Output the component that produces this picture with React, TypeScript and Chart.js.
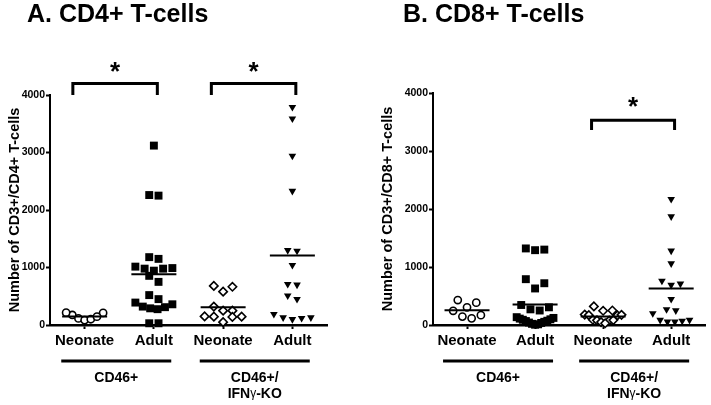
import React, { useEffect, useRef } from "react";
import { Chart, registerables } from "chart.js";
Chart.register(...registerables);

const FONT = "'Liberation Sans', Arial, Helvetica, sans-serif";

// ---- data ----
const categories = ["Neonate", "Adult", "Neonate", "Adult"];
const groupLabels = [["CD46+"], ["CD46+/", "IFNγ-KO"]];
const yTicks = [0, 1000, 2000, 3000, 4000];

const cd4Neonate = [210, 175, 115, 85, 100, 145, 215];
const cd4Adult = [3120, 2250, 2260, 1180, 1150, 1015, 980, 945, 980, 990, 855, 750, 520, 450, 390, 320, 290, 275, 310, 360, 30, 30];
const cd4KoNeonate = [680, 580, 665, 320, 250, 250, 145, 145, 140, 150, 50];
const cd4KoAdult = [3790, 3590, 2940, 2330, 1290, 1300, 1040, 700, 710, 510, 450, 190, 130, 100, 120, 130];

const cd8Neonate = [385, 305, 430, 245, 170, 115, 145];
const cd8Adult = [1320, 1290, 1300, 790, 630, 720, 345, 270, 250, 305, 5, 12, 20, 35, 42, 55, 68, 74, 90, 98, 110, 122, 135];
const cd8KoNeonate = [320, 250, 245, 180, 170, 165, 175, 90, 80, 75, 85, 50, 30];
const cd8KoAdult = [2170, 1870, 1280, 1060, 710, 690, 760, 445, 270, 250, 200, 85, 55, 55, 70, 85];

// significance brackets: [groupA, groupB, bracketTop, legBottom, starY]
const cd4Brackets = [
  [0, 1, 4200, 4000, 4500],
  [2, 3, 4200, 4000, 4500],
];
const cd8Brackets = [[2, 3, 3530, 3360, 3850]];

// ---- styles ----
const markers = [
  { pointStyle: "circle", radius: 3.6, fill: "#ffffff", border: 1.6, rotation: 0 },
  { pointStyle: "rect", radius: 5.6, fill: "#000000", border: 0, rotation: 0 },
  { pointStyle: "rectRot", radius: 4.2, fill: "#ffffff", border: 1.6, rotation: 0 },
  { pointStyle: "triangle", radius: 4.4, fill: "#000000", border: 0, rotation: 180 },
];

const ROW_TOL = 160; // data units
const STEP_PX = 9.3;
const MAX_SPAN_PX = 37;

function swarmOffsets(values: number[], pxPerCat: number) {
  const idx = values.map((_, i) => i).sort((a, b) => values[a] - values[b]);
  const offs = new Array(values.length).fill(0);
  let i = 0;
  while (i < idx.length) {
    const start = values[idx[i]];
    let j = i;
    while (j < idx.length && values[idx[j]] - start <= ROW_TOL) j++;
    const row = idx.slice(i, j);
    const n = row.length;
    const step = n > 1 ? Math.min(STEP_PX, MAX_SPAN_PX / (n - 1)) : 0;
    const slots: number[] = [];
    for (let k = 0; k < n; k++) slots.push(k - (n - 1) / 2);
    slots.sort((a, b) => Math.abs(a) - Math.abs(b) || b - a);
    row.forEach((p, k) => (offs[p] = (slots[k] * step) / pxPerCat));
    i = j;
  }
  return offs;
}

type Panel = {
  title: string;
  yTitle: string;
  groups: number[][];
  brackets: number[][];
  width: number;
  left: number;
  areaLeft: number;
  areaRight: number;
  areaTop: number;
  titleX: number;
  yTitlePad: number;
};

const panels: Panel[] = [
  {
    title: "A. CD4+ T-cells",
    yTitle: "Number of CD3+/CD4+ T-cells",
    groups: [cd4Neonate, cd4Adult, cd4KoNeonate, cd4KoAdult],
    brackets: cd4Brackets,
    width: 360,
    left: 0,
    areaLeft: 50,
    areaRight: 327,
    areaTop: 95,
    titleX: 27,
    yTitlePad: 6,
  },
  {
    title: "B. CD8+ T-cells",
    yTitle: "Number of CD3+/CD8+ T-cells",
    groups: [cd8Neonate, cd8Adult, cd8KoNeonate, cd8KoAdult],
    brackets: cd8Brackets,
    width: 351,
    left: 360,
    areaLeft: 73,
    areaRight: 347,
    areaTop: 93,
    titleX: 43,
    yTitlePad: 19,
  },
];

const H = 405;
const AXIS_BOTTOM = 325;

function drawIFN(ctx: CanvasRenderingContext2D, cx: number, y: number) {
  const p1 = "IFN", p2 = "γ", p3 = "-KO";
  const fB = `bold 14px ${FONT}`;
  const fG = `12px ${FONT}`;
  ctx.font = fB;
  const w1 = ctx.measureText(p1).width;
  const w3 = ctx.measureText(p3).width;
  ctx.font = fG;
  const w2 = ctx.measureText(p2).width;
  let x = cx - (w1 + w2 + w3) / 2;
  ctx.textAlign = "left";
  ctx.font = fB;
  ctx.fillText(p1, x, y);
  x += w1;
  ctx.font = fG;
  ctx.fillText(p2, x, y);
  x += w2;
  ctx.font = fB;
  ctx.fillText(p3, x, y);
}

function makeConfig(panel: Panel): any {
  const pxPerCat = (panel.areaRight - panel.areaLeft) / 4;
  const datasets = panel.groups.map((vals, g) => {
    const offs = swarmOffsets(vals, pxPerCat);
    const m = markers[g];
    return {
      data: vals.map((v, i) => ({ x: g + offs[i], y: v })),
      pointStyle: m.pointStyle,
      pointRadius: m.radius,
      pointRotation: m.rotation,
      backgroundColor: m.fill,
      borderColor: "#000000",
      borderWidth: m.border,
      pointBorderWidth: m.border,
      clip: false,
    };
  });

  const annot = {
    id: "annot",
    afterDraw(chart: any) {
      const { ctx, scales } = chart;
      const x = scales.x, y = scales.y;
      ctx.save();
      ctx.fillStyle = "#000";
      ctx.strokeStyle = "#000";
      panel.groups.forEach((vals, g) => {
        const mean = vals.reduce((a, b) => a + b, 0) / vals.length;
        const px = x.getPixelForValue(g);
        const py = y.getPixelForValue(mean);
        ctx.beginPath();
        ctx.lineWidth = 2;
        ctx.moveTo(px - 22.5, py);
        ctx.lineTo(px + 22.5, py);
        ctx.stroke();
      });
      ctx.font = `bold 25px ${FONT}`;
      ctx.textAlign = "left";
      ctx.textBaseline = "alphabetic";
      ctx.fillText(panel.title, panel.titleX, 22);
      panel.brackets.forEach(([a, b, top, bot, star]) => {
        const x1 = x.getPixelForValue(a - 0.17);
        const x2 = x.getPixelForValue(b + 0.05);
        const yt = y.getPixelForValue(top);
        const yb = y.getPixelForValue(bot);
        ctx.beginPath();
        ctx.lineWidth = 3;
        ctx.lineJoin = "miter";
        ctx.moveTo(x1, yb);
        ctx.lineTo(x1, yt);
        ctx.lineTo(x2, yt);
        ctx.lineTo(x2, yb);
        ctx.stroke();
        ctx.font = `bold 26px ${FONT}`;
        ctx.textAlign = "center";
        ctx.textBaseline = "alphabetic";
        ctx.fillText("*", (x1 + x2) / 2, y.getPixelForValue(star) + 13.5);
      });
      groupLabels.forEach((lines, k) => {
        const mid = (x.getPixelForValue(2 * k) + x.getPixelForValue(2 * k + 1)) / 2 - 3;
        ctx.beginPath();
        ctx.lineWidth = 3;
        ctx.moveTo(mid - 55, 361);
        ctx.lineTo(mid + 55, 361);
        ctx.stroke();
        ctx.textBaseline = "middle";
        ctx.textAlign = "center";
        lines.forEach((t, li) => {
          const ty = 378 + li * 16;
          if (t.indexOf("γ") >= 0) {
            drawIFN(ctx, mid, ty);
          } else {
            ctx.font = `bold 14px ${FONT}`;
            ctx.textAlign = "center";
            ctx.fillText(t, mid, ty);
          }
        });
      });
      ctx.restore();
    },
  };

  return {
    type: "scatter",
    data: { datasets },
    options: {
      animation: false,
      responsive: false,
      maintainAspectRatio: false,
      devicePixelRatio: 1,
      events: [],
      layout: {
        padding: {
          left: 0,
          right: panel.width - panel.areaRight,
          top: panel.areaTop,
          bottom: 0,
        },
      },
      plugins: {
        legend: { display: false },
        tooltip: { enabled: false },
        title: { display: false },
      },
      scales: {
        x: {
          type: "linear",
          min: -0.5,
          max: 3.5,
          afterBuildTicks: (s: any) => {
            s.ticks = categories.map((_, i) => ({ value: i }));
          },
          afterFit: (s: any) => {
            s.height = H - AXIS_BOTTOM;
          },
          ticks: {
            callback: (v: number) => categories[v],
            font: { family: FONT, size: 15, weight: "bold" },
            color: "#000",
            padding: 3,
            maxRotation: 0,
            autoSkip: false,
          },
          grid: {
            display: true,
            drawOnChartArea: false,
            drawTicks: true,
            tickLength: 4,
            tickWidth: 2,
            tickColor: "#000",
          },
          border: { display: true, color: "#000", width: 2.5 },
        },
        y: {
          type: "linear",
          min: 0,
          max: 4000,
          afterBuildTicks: (s: any) => {
            s.ticks = yTicks.map((v) => ({ value: v }));
          },
          afterFit: (s: any) => {
            s.width = panel.areaLeft;
          },
          ticks: {
            font: { family: FONT, size: 10.5, weight: "bold" },
            color: "#000",
            padding: 1,
            callback: (v: number) => String(v),
          },
          grid: {
            display: true,
            drawOnChartArea: false,
            drawTicks: true,
            tickLength: 4,
            tickWidth: 2,
            tickColor: "#000",
          },
          border: { display: true, color: "#000", width: 2 },
          title: {
            display: true,
            text: panel.yTitle,
            color: "#000",
            font: { family: FONT, size: 14.5, weight: "bold" },
            padding: { top: panel.yTitlePad, bottom: 0 },
          },
        },
      },
    },
    plugins: [annot],
  };
}

function PanelChart({ panel }: { panel: Panel }) {
  const ref = useRef<HTMLCanvasElement | null>(null);
  useEffect(() => {
    if (!ref.current) return;
    const chart = new Chart(ref.current, makeConfig(panel));
    return () => chart.destroy();
  }, [panel]);
  return (
    <canvas
      ref={ref}
      width={panel.width}
      height={H}
      style={{ position: "absolute", left: panel.left, top: 0, width: panel.width, height: H }}
    />
  );
}

export default function App() {
  return (
    <div style={{ position: "fixed", left: 0, top: 0, width: 711, height: H, background: "#fff" }}>
      {panels.map((p, i) => (
        <PanelChart key={i} panel={p} />
      ))}
    </div>
  );
}
